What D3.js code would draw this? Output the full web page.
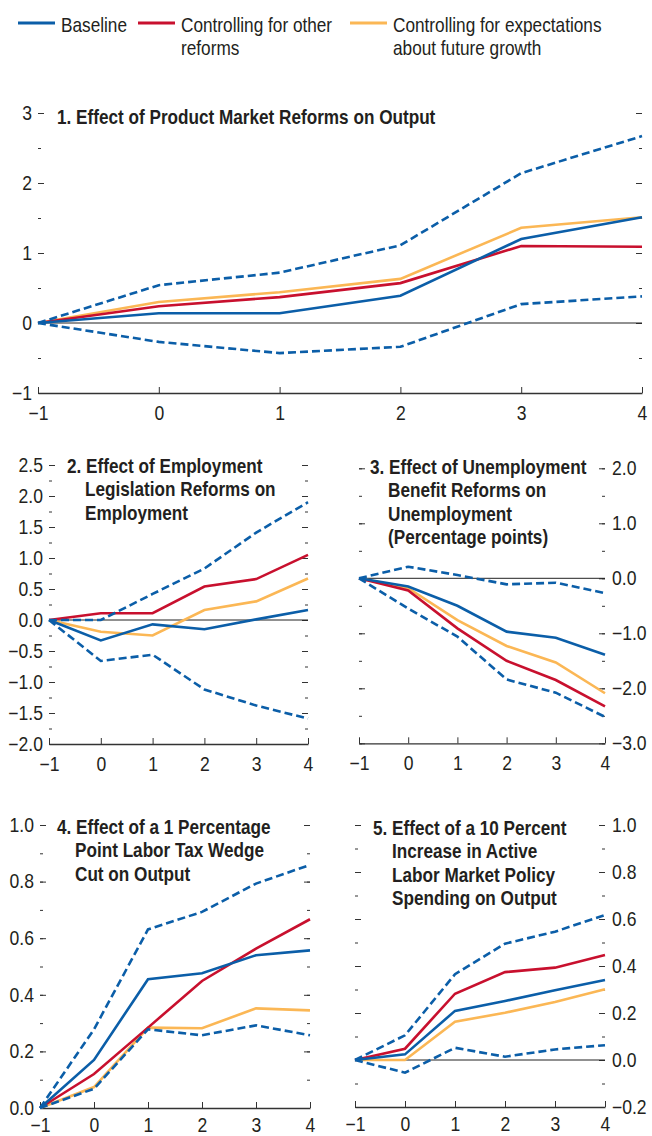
<!DOCTYPE html>
<html>
<head>
<meta charset="utf-8">
<script src="https://cdn.jsdelivr.net/npm/d3@7"></script>
<style>
  body { margin: 0; background: #fff; }
  svg text { font-family: "Liberation Sans", Arial, sans-serif; fill: #231f20; }
</style>
</head>
<body>
<div id="chart"></div>
<script>
// horizons (years after reform)
const horizons = [-1, 0, 1, 2, 3, 4];
const seriesNames = ["Baseline", "Controlling for other reforms", "Controlling for expectations about future growth"];

// 1. product market reforms on output
const p1Baseline = [0, 0.14, 0.14, 0.39, 1.20, 1.51];
const p1Other    = [0, 0.24, 0.37, 0.57, 1.10, 1.09];
const p1Expect   = [0, 0.30, 0.44, 0.63, 1.36, 1.51];
const p1Upper    = [0, 0.54, 0.72, 1.11, 2.14, 2.67];
const p1Lower    = [0, -0.27, -0.43, -0.34, 0.27, 0.38];
const p1Ticks    = [-1, 0, 1, 2, 3];

// 2. employment legislation reforms on employment
const p2Baseline = [0, -0.33, -0.07, -0.15, 0.01, 0.16];
const p2Other    = [0, 0.11, 0.11, 0.54, 0.66, 1.05];
const p2Expect   = [0, -0.19, -0.25, 0.16, 0.30, 0.67];
const p2Upper    = [0, 0.00, 0.42, 0.83, 1.41, 1.90];
const p2Lower    = [0, -0.66, -0.56, -1.12, -1.38, -1.59];
const p2Ticks    = [-2, -1.5, -1, -0.5, 0, 0.5, 1, 1.5, 2, 2.5];

// 3. unemployment benefit reforms on unemployment
const p3Baseline = [0, -0.15, -0.50, -0.97, -1.08, -1.39];
const p3Other    = [0, -0.22, -0.91, -1.50, -1.85, -2.33];
const p3Expect   = [0, -0.18, -0.76, -1.23, -1.53, -2.09];
const p3Upper    = [0, 0.21, 0.06, -0.11, -0.08, -0.27];
const p3Lower    = [0, -0.55, -1.06, -1.84, -2.08, -2.52];
const p3Ticks    = [-3, -2, -1, 0, 1, 2];

// 4. labor tax wedge cut on output
const p4Baseline = [0, 0.170, 0.455, 0.476, 0.540, 0.557];
const p4Other    = [0, 0.120, 0.284, 0.449, 0.563, 0.667];
const p4Expect   = [0, 0.074, 0.284, 0.282, 0.352, 0.345];
const p4Upper    = [0, 0.278, 0.631, 0.693, 0.793, 0.859];
const p4Lower    = [0, 0.068, 0.278, 0.257, 0.292, 0.257];
const p4Ticks    = [0, 0.2, 0.4, 0.6, 0.8, 1.0];

// 5. active labor market policy spending on output
const p5Baseline = [0, 0.024, 0.209, 0.251, 0.297, 0.340];
const p5Other    = [0, 0.048, 0.282, 0.374, 0.393, 0.447];
const p5Expect   = [0, 0.000, 0.163, 0.201, 0.247, 0.301];
const p5Upper    = [0, 0.105, 0.365, 0.495, 0.546, 0.617];
const p5Lower    = [0, -0.054, 0.052, 0.014, 0.045, 0.063];
const p5Ticks    = [-0.2, 0, 0.2, 0.4, 0.6, 0.8, 1.0];

const blue = "#0b5ea8", red = "#c8102e", yellow = "#fbb755";

const width = 652, height = 1136;
const svg = d3.select("#chart").append("svg")
    .attr("width", width)
    .attr("height", height);

// no condensed font installed, so squeeze the text horizontally
function condense(sel, sx) {
    sel.each(function() {
        const t = d3.select(this);
        const x = +t.attr("x") || 0;
        t.attr("x", x / sx).attr("transform", `scale(${sx},1)`);
        t.selectAll("tspan").each(function() {
            const ts = d3.select(this);
            if (ts.attr("x") !== null) ts.attr("x", +ts.attr("x") / sx);
        });
    });
}

// legend
const legendItems = [
    {color: blue, x: 18, lines: ["Baseline"]},
    {color: red, x: 138, lines: ["Controlling for other", "reforms"]},
    {color: yellow, x: 350, lines: ["Controlling for expectations", "about future growth"]}
];
const legend = svg.append("g").attr("class", "legend");
legendItems.forEach(function(d) {
    legend.append("line")
        .attr("x1", d.x).attr("x2", d.x + 37)
        .attr("y1", 23).attr("y2", 23)
        .style("stroke", d.color)
        .style("stroke-width", 2.8);
    let t = legend.append("text")
        .attr("x", d.x + 43).attr("y", 32)
        .style("font-size", "21px");
    d.lines.forEach(function(l, i) {
        t.append("tspan").attr("x", d.x + 43).attr("dy", i ? 23 : 0).text(l);
    });
    condense(t, 0.82);
});

function drawPanel(p) {
    const x = d3.scaleLinear().domain([-1, 4]).range([p.x0, p.x1]);
    const y = d3.scaleLinear().domain(p.domain).range([p.yBottom, p.yTop]);
    const g = svg.append("g").attr("class", "panel");
    const fmt = d3.format(p.format);

    // minor ticks both sides
    const minor = d3.range(p.domain[0], p.domain[1] + p.minor / 2, p.minor);
    g.append("g").attr("transform", `translate(${p.x0},0)`)
        .call(d3.axisLeft(y).tickValues(minor).tickSize(-3).tickFormat(""))
        .call(a => a.select(".domain").remove());
    g.append("g").attr("transform", `translate(${p.x1},0)`)
        .call(d3.axisRight(y).tickValues(minor).tickSize(-3).tickFormat(""))
        .call(a => a.select(".domain").remove());

    // major ticks, labels on one side only
    const left = d3.axisLeft(y).tickValues(p.ticks).tickSize(-6).tickPadding(6)
        .tickFormat(p.labelSide === "left" ? fmt : "");
    const right = d3.axisRight(y).tickValues(p.ticks).tickSize(-6).tickPadding(7)
        .tickFormat(p.labelSide === "right" ? fmt : "");
    g.append("g").attr("transform", `translate(${p.x0},0)`).call(left)
        .call(a => a.select(".domain").remove());
    g.append("g").attr("transform", `translate(${p.x1},0)`).call(right)
        .call(a => a.select(".domain").remove());

    // zero line
    if (p.domain[0] < 0) {
        g.append("line")
            .attr("x1", p.x0).attr("x2", p.x1)
            .attr("y1", y(0)).attr("y2", y(0))
            .style("stroke", "#222")
            .style("stroke-width", 1);
    }

    // x axis at the bottom
    g.append("g").attr("transform", `translate(0,${p.yBottom})`)
        .call(d3.axisBottom(x).tickValues(horizons).tickSize(-6).tickSizeOuter(0)
            .tickPadding(p.xPad || 13).tickFormat(d3.format("d")));

    g.selectAll(".tick line").style("stroke", "#333").style("stroke-width", 1);
    g.selectAll(".domain").style("stroke", "#333").style("stroke-width", 1.3);
    g.selectAll(".tick text").style("font-size", "19.5px").style("fill", "#231f20")
        .style("font-family", "'Liberation Sans', Arial, sans-serif");
    condense(g.selectAll(".tick text"), 0.9);

    const line = d3.line()
        .x((d, i) => x(horizons[i]))
        .y(d => y(d));

    const series = [
        {values: p.expect, color: yellow, dash: null},
        {values: p.other, color: red, dash: null},
        {values: p.baseline, color: blue, dash: null},
        {values: p.upper, color: blue, dash: "8,4"},
        {values: p.lower, color: blue, dash: "8,4"}
    ];
    g.selectAll("path.series")
        .data(series)
        .enter().append("path")
        .attr("class", "series")
        .attr("d", d => line(d.values))
        .style("fill", "none")
        .style("stroke", d => d.color)
        .style("stroke-width", 2.6)
        .style("stroke-dasharray", d => d.dash);

    // title
    const t = g.append("text")
        .attr("x", p.titleX).attr("y", p.titleY)
        .style("font-size", "19.5px")
        .style("font-weight", "bold");
    p.title.forEach(function(l, i) {
        t.append("tspan")
            .attr("x", i ? p.titleIndent : p.titleX)
            .attr("dy", i ? 23.3 : 0)
            .text(l);
    });
    condense(t, 0.88);
}

drawPanel({
    x0: 38, x1: 642, yBottom: 393, yTop: 113, domain: [-1, 3],
    ticks: p1Ticks, minor: 0.5, format: "d", labelSide: "left",
    baseline: p1Baseline, other: p1Other, expect: p1Expect, upper: p1Upper, lower: p1Lower,
    title: ["1. Effect of Product Market Reforms on Output"], titleX: 57, titleIndent: 57, titleY: 124
});
drawPanel({
    x0: 49, x1: 308, yBottom: 744, yTop: 465, domain: [-2, 2.5],
    ticks: p2Ticks, minor: 0.25, format: ".1f", labelSide: "left",
    baseline: p2Baseline, other: p2Other, expect: p2Expect, upper: p2Upper, lower: p2Lower,
    title: ["2. Effect of Employment", "Legislation Reforms on", "Employment"], titleX: 67, titleIndent: 85, titleY: 473
});
drawPanel({
    x0: 359, x1: 605, yBottom: 743.3, yTop: 468.3, domain: [-3, 2],
    ticks: p3Ticks, minor: 0.5, format: ".1f", labelSide: "right",
    baseline: p3Baseline, other: p3Other, expect: p3Expect, upper: p3Upper, lower: p3Lower,
    title: ["3. Effect of Unemployment", "Benefit Reforms on", "Unemployment", "(Percentage points)"],
    titleX: 370, titleIndent: 388, titleY: 474
});
drawPanel({
    x0: 40, x1: 310, yBottom: 1108, yTop: 825, domain: [0, 1],
    ticks: p4Ticks, minor: 0.1, format: ".1f", labelSide: "left", xPad: 10,
    baseline: p4Baseline, other: p4Other, expect: p4Expect, upper: p4Upper, lower: p4Lower,
    title: ["4. Effect of a 1 Percentage", "Point Labor Tax Wedge", "Cut on Output"], titleX: 57, titleIndent: 75, titleY: 834
});
drawPanel({
    x0: 355, x1: 605, yBottom: 1107, yTop: 825, domain: [-0.2, 1.0],
    ticks: p5Ticks, minor: 0.1, format: ".1f", labelSide: "right", xPad: 10,
    baseline: p5Baseline, other: p5Other, expect: p5Expect, upper: p5Upper, lower: p5Lower,
    title: ["5. Effect of a 10 Percent", "Increase in Active", "Labor Market Policy", "Spending on Output"],
    titleX: 373, titleIndent: 392, titleY: 835
});
</script>
</body>
</html>
